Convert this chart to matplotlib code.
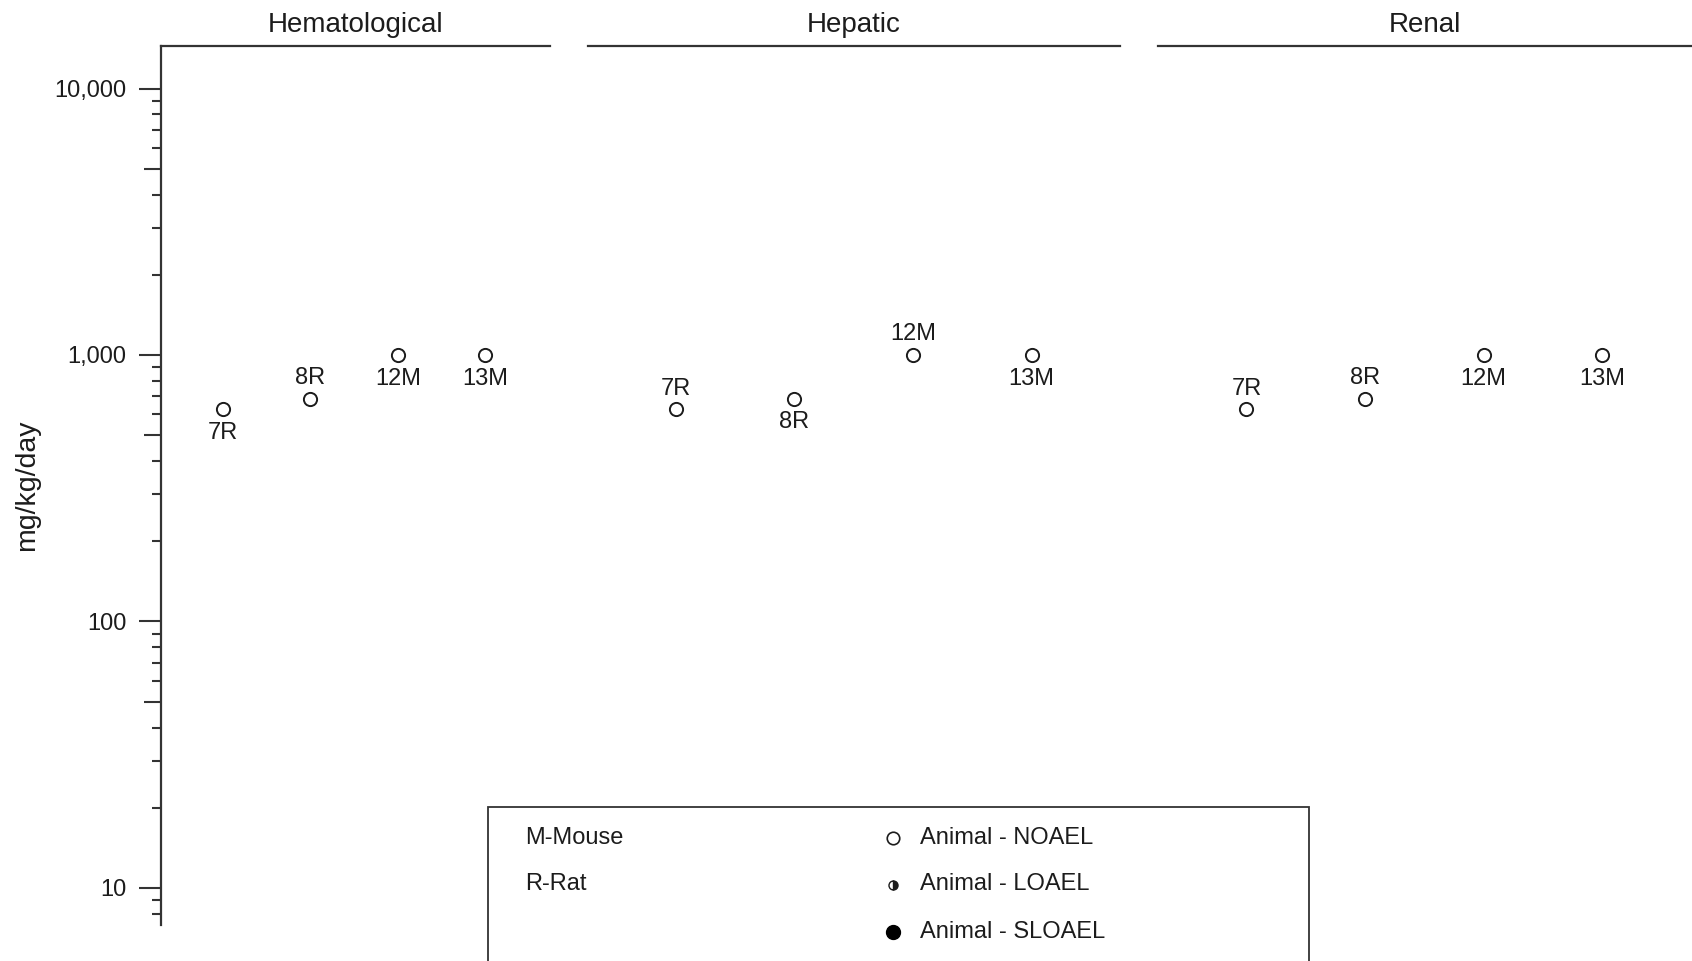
import matplotlib
matplotlib.use("Agg")
import matplotlib.pyplot as plt
from matplotlib.lines import Line2D
from matplotlib.patches import Rectangle
from matplotlib.ticker import FixedLocator, FuncFormatter, NullFormatter

plt.rcParams['font.family'] = ['Liberation Sans', 'DejaVu Sans']

# endpoints (one panel each) and the studies plotted in them
organs = ['Hematological', 'Hepatic', 'Renal']
studies = ['7R', '8R', '12M', '13M']
noael = [625, 685, 1000, 1000]  # mg/kg/day, same studies in every panel

# where the study label sits relative to its marker, per panel
label_side = {
    'Hematological': ['below', 'above', 'below', 'below'],
    'Hepatic': ['above', 'below', 'above', 'below'],
    'Renal': ['above', 'above', 'below', 'below'],
}

species = ['M-Mouse', 'R-Rat']
effect_levels = ['Animal - NOAEL', 'Animal - LOAEL', 'Animal - SLOAEL']

INK = '#1c1c1c'
LINE = '#333333'
W, H = 1692, 961

fig = plt.figure(figsize=(W / 100, H / 100), dpi=100)

# panel extents in pixels (left, right); all share the same vertical span
panels_px = [(161, 550), (588, 1120), (1158, 1692)]
panel_xlims = [(0.29, 4.74), (0.26, 4.745), (0.255, 4.755)]
top_px, bottom_px = 46, 925
ylim = (7.26, 14440)

axes = []
for i, (organ, (x0, x1), xl) in enumerate(zip(organs, panels_px, panel_xlims)):
    ax = fig.add_axes([x0 / W, 1 - bottom_px / H, (x1 - x0) / W, (bottom_px - top_px) / H])
    ax.set_yscale('log')
    ax.set_ylim(*ylim)
    ax.set_xlim(*xl)
    ax.set_xticks([])
    for side in ['right', 'bottom']:
        ax.spines[side].set_visible(False)
    ax.spines['top'].set_color(LINE)
    ax.spines['top'].set_linewidth(1.6)
    if i == 0:
        ax.spines['left'].set_color(LINE)
        ax.spines['left'].set_linewidth(1.6)
    else:
        ax.spines['left'].set_visible(False)
        ax.set_yticks([])
        ax.yaxis.set_minor_locator(FixedLocator([]))

    ax.set_title(organ, fontsize=20, color=INK, pad=10)

    xs = range(1, len(studies) + 1)
    ax.plot(xs, noael, linestyle='none', marker='o', markersize=9.5,
            markerfacecolor='white', markeredgecolor=INK, markeredgewidth=1.4)
    for x, y, name, side in zip(xs, noael, studies, label_side[organ]):
        dy = -17 if side == 'below' else 15
        ax.annotate(name, (x, y), xytext=(0, dy), textcoords='offset points',
                    ha='center', va='center', fontsize=17, color=INK)
    axes.append(ax)

# y axis: labelled decades, short minor ticks, medium ticks at the 5s
ax = axes[0]
ax.yaxis.set_major_locator(FixedLocator([10, 100, 1000, 10000]))
ax.yaxis.set_major_formatter(FuncFormatter(lambda v, p: f'{v:,.0f}'))
ax.yaxis.set_minor_locator(FixedLocator([m * 10 ** d for d in range(0, 5)
                                         for m in (2, 3, 4, 6, 7, 8, 9)]))
ax.yaxis.set_minor_formatter(NullFormatter())
ax.tick_params(axis='y', which='major', length=16, width=1.5, color=LINE,
               labelsize=17, labelcolor=INK, pad=9)
ax.tick_params(axis='y', which='minor', length=6.5, width=1.5, color=LINE)
ax.set_ylabel('mg/kg/day', fontsize=20.5, color=INK)
ax.yaxis.set_label_coords(-0.312, 0.5)

mid = ax.twinx()
mid.set_yscale('log')
mid.set_ylim(*ylim)
mid.yaxis.tick_left()
mid.yaxis.set_major_locator(FixedLocator([50, 500, 5000]))
mid.yaxis.set_major_formatter(NullFormatter())
mid.yaxis.set_minor_locator(FixedLocator([]))
mid.tick_params(axis='y', which='major', length=12, width=1.5, color=LINE)
for s in mid.spines.values():
    s.set_visible(False)

# key box, running off the bottom edge
fig.add_artist(Rectangle((488 / W, -0.05), (1309 - 488) / W, 0.05 + 1 - 807 / H,
                         transform=fig.transFigure, fill=False,
                         edgecolor=LINE, linewidth=1.3))
rows_px = [838, 884.5, 931.5]
for name, ypx in zip(species, rows_px):
    fig.text(525 / W, 1 - ypx / H, name, fontsize=17, color=INK, va='center')

key_styles = [
    dict(marker='o', markersize=9, markerfacecolor='white', markeredgecolor=INK,
         markeredgewidth=1.2),
    dict(marker='o', markersize=6.5, fillstyle='right', markerfacecolor=INK,
         markerfacecoloralt='white', markeredgecolor=INK, markeredgewidth=1.0),
    dict(marker='o', markersize=10, markerfacecolor='black', markeredgecolor='black'),
]
for label, style, ypx in zip(effect_levels, key_styles, rows_px):
    y = 1 - ypx / H
    fig.add_artist(Line2D([893 / W], [y], transform=fig.transFigure,
                          linestyle='none', **style))
    fig.text(920 / W, y, label, fontsize=17, color=INK, va='center')

fig.savefig('out.png', dpi=100)
